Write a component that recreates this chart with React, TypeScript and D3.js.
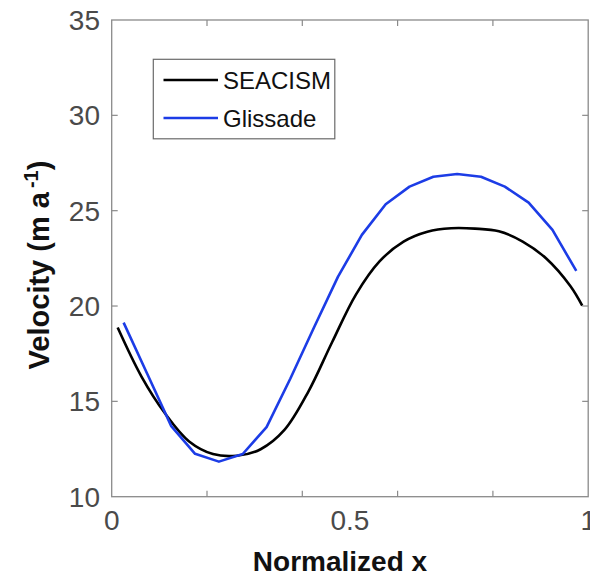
import React from "react";
import * as d3 from "d3";

const seacismX = [0.0125, 0.0625, 0.1125, 0.1625, 0.2125, 0.2625, 0.3125, 0.3625, 0.4125, 0.4625, 0.5125, 0.5625, 0.6125, 0.6625, 0.7125, 0.7625, 0.8125, 0.8625, 0.9125, 0.9625, 0.9875];
const seacismY = [18.87, 16.3, 14.35, 12.9, 12.24, 12.15, 12.49, 13.5, 15.5, 18.1, 20.6, 22.35, 23.38, 23.9, 24.08, 24.06, 23.92, 23.38, 22.48, 21.05, 20.02];

const glissadeX = [0.025, 0.075, 0.125, 0.175, 0.225, 0.275, 0.325, 0.375, 0.425, 0.475, 0.525, 0.575, 0.625, 0.675, 0.725, 0.775, 0.825, 0.875, 0.925, 0.975];
const glissadeY = [19.13, 16.42, 13.7, 12.25, 11.84, 12.24, 13.65, 16.2, 18.9, 21.54, 23.73, 25.34, 26.26, 26.78, 26.92, 26.78, 26.26, 25.42, 23.99, 21.84];

const xTickMarks = [0.2, 0.4, 0.6, 0.8];
const xTickLabels = [0, 0.5, 1];
const yTickMarks = [15, 20, 25, 30];
const yTickLabels = [10, 15, 20, 25, 30, 35];

const seriesNames = ["SEACISM", "Glissade"];
const seriesColors = ["#000000", "#1c3ce6"];

export default function App() {
  const W = 590, H = 578;
  const left = 111.7, right = 588.2, top = 20, bottom = 496.7;
  const x = d3.scaleLinear().domain([0, 1]).range([left, right]);
  const y = d3.scaleLinear().domain([10, 35]).range([bottom, top]);

  const line = d3.line<[number, number]>().x(d => x(d[0])).y(d => y(d[1]));
  const smooth = d3.line<[number, number]>().x(d => x(d[0])).y(d => y(d[1])).curve(d3.curveCatmullRom.alpha(0.5));

  const sData = seacismX.map((v, i) => [v, seacismY[i]] as [number, number]);
  const gData = glissadeX.map((v, i) => [v, glissadeY[i]] as [number, number]);

  const axisColor = "#8a8a8a";
  const tickLen = 6;
  const font = "'Liberation Sans', Arial, Helvetica, sans-serif";

  return (
    <svg width={W} height={H} style={{ position: "absolute", left: 0, top: 0, background: "#fff" }} fontFamily={font}>
      <rect x={0} y={0} width={W} height={H} fill="#fff" />
      <path d={smooth(sData) || ""} fill="none" stroke={seriesColors[0]} strokeWidth={2.6} />
      <path d={line(gData) || ""} fill="none" stroke={seriesColors[1]} strokeWidth={2.6} strokeLinejoin="round" />

      <rect x={left} y={top} width={right - left} height={bottom - top} fill="none" stroke={axisColor} strokeWidth={1.3} />
      {xTickMarks.map(t => (
        <g key={"xt" + t}>
          <line x1={x(t)} x2={x(t)} y1={bottom} y2={bottom - tickLen} stroke={axisColor} strokeWidth={1.2} />
          <line x1={x(t)} x2={x(t)} y1={top} y2={top + tickLen} stroke={axisColor} strokeWidth={1.2} />
        </g>
      ))}
      {yTickMarks.map(t => (
        <g key={"yt" + t}>
          <line x1={left} x2={left + tickLen} y1={y(t)} y2={y(t)} stroke={axisColor} strokeWidth={1.2} />
          <line x1={right} x2={right - tickLen} y1={y(t)} y2={y(t)} stroke={axisColor} strokeWidth={1.2} />
        </g>
      ))}
      {xTickLabels.map(t => (
        <text key={"xl" + t} x={x(t)} y={530} textAnchor="middle" fontSize={28} fill="#4a4a4a">{String(t)}</text>
      ))}
      {yTickLabels.map(t => (
        <text key={"yl" + t} x={100} y={y(t) + 10} textAnchor="end" fontSize={28} fill="#4a4a4a">{String(t)}</text>
      ))}

      <text x={340} y={571} textAnchor="middle" fontSize={28} fontWeight="bold" fill="#111">Normalized x</text>
      <text transform="translate(49,265) rotate(-90)" textAnchor="middle" fontSize={29} fontWeight="bold" fill="#111">
        Velocity (m a
        <tspan fontSize={20} dy={-11} dx={4}>-1</tspan>
        <tspan dy={11}>)</tspan>
      </text>

      <rect x={153.3} y={59.3} width={181.5} height={79.5} fill="#fff" stroke="#6a6a6a" strokeWidth={1.2} />
      {seriesNames.map((n, i) => (
        <g key={n}>
          <line x1={163.5} x2={218} y1={80 + i * 38} y2={80 + i * 38} stroke={seriesColors[i]} strokeWidth={2.6} />
          <text x={223} y={80 + i * 38 + 9} fontSize={24} fill="#111">{n}</text>
        </g>
      ))}
    </svg>
  );
}
